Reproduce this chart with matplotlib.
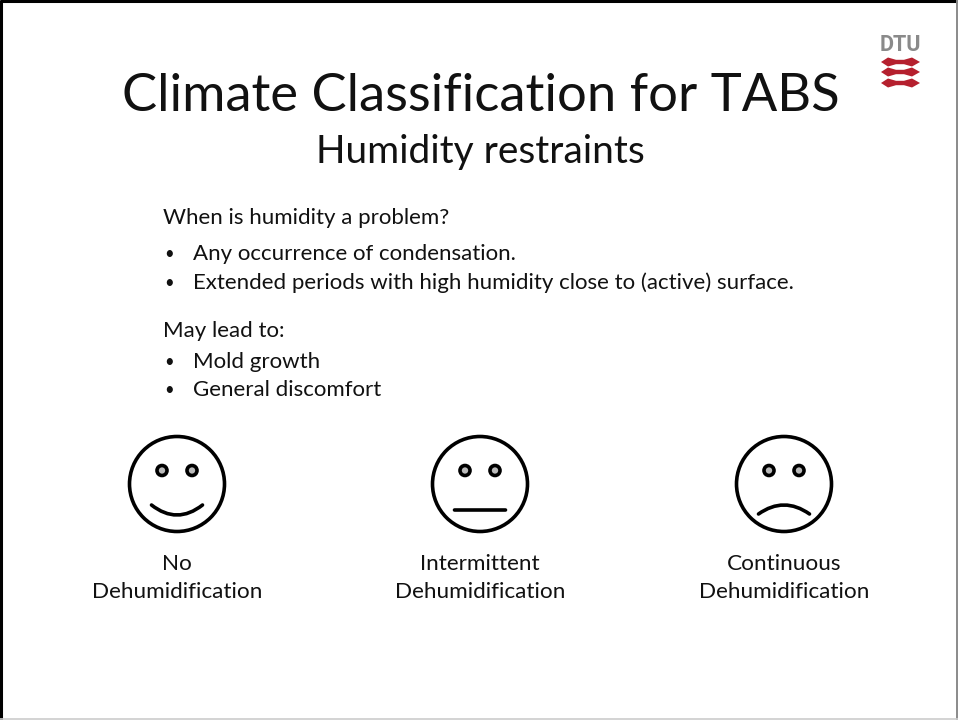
import matplotlib
matplotlib.use("Agg")
import matplotlib.pyplot as plt
from matplotlib.patches import Circle, PathPatch, Polygon
from matplotlib.path import Path

plt.rcParams['font.family'] = ['Lato', 'DejaVu Sans']

title = "Climate Classification for TABS"
subtitle = "Humidity restraints"
body_lines = ["When is humidity a problem?", "May lead to:"]
bullets = ["Any occurrence of condensation.",
           "Extended periods with high humidity close to (active) surface.",
           "Mold growth", "General discomfort"]
face_labels = ["No\nDehumidification", "Intermittent\nDehumidification", "Continuous\nDehumidification"]
mouth_offsets = [20, 0, -18]   # curve of each mouth

fig = plt.figure(figsize=(9.58, 7.2), dpi=100)
ax = fig.add_axes([0, 0, 1, 1])
ax.set_xlim(0, 958); ax.set_ylim(720, 0); ax.axis('off')

# slide border
ax.plot([1, 1], [0, 720], color='black', lw=2.2, solid_capstyle='butt')
ax.plot([0, 958], [1, 1], color='black', lw=2.2, solid_capstyle='butt')
ax.plot([957, 957], [0, 720], color='#8a8a8a', lw=1.4, solid_capstyle='butt')
ax.plot([0, 958], [719, 719], color='#cccccc', lw=1.2, solid_capstyle='butt')

tc = '#111111'
ax.text(480.5, 111, title, fontsize=37.8, ha='center', va='baseline', color=tc)
ax.text(480.5, 163, subtitle, fontsize=28, ha='center', va='baseline', color=tc)

fs = 16
rows = [(None, 224, body_lines[0]), (True, 260, bullets[0]), (True, 289, bullets[1]),
        (None, 337, body_lines[1]), (True, 368, bullets[2]), (True, 396, bullets[3])]
for bullet, y, s in rows:
    if bullet:
        ax.text(164, y - 1, "•", fontsize=12, va='baseline', color=tc)
        ax.text(193, y, s, fontsize=fs, va='baseline', color=tc)
    else:
        ax.text(163, y, s, fontsize=fs, va='baseline', color=tc)

centers = [177, 480, 784]
for cx, lab, m in zip(centers, face_labels, mouth_offsets):
    ax.add_patch(Circle((cx, 484), 47.5, fc='white', ec='black', lw=2.6))
    for ex in (cx - 15, cx + 15):
        ax.add_patch(Circle((ex, 470.5), 5, fc='#bbbbbb', ec='black', lw=2.6))
    y0 = 505 if m > 0 else (510 if m == 0 else 514)
    verts = [(cx - 25.5, y0), (cx, y0 + m), (cx + 25.5, y0)]
    ax.add_patch(PathPatch(Path(verts, [Path.MOVETO, Path.CURVE3, Path.CURVE3]),
                           fc='none', ec='black', lw=2.6, capstyle='round'))
    top, bottom = lab.split("\n")
    ax.text(cx, 570, top, fontsize=16.2, ha='center', va='baseline', color=tc)
    ax.text(cx, 598, bottom, fontsize=16.2, ha='center', va='baseline', color=tc)

# DTU logo
ax.text(900, 51, "DTU", fontsize=15.5, fontweight='bold', ha='center', va='baseline',
        color='#8a8a8a', family=['Liberation Sans Narrow', 'Roboto', 'DejaVu Sans'])
for y in (62, 72, 83):
    ax.add_patch(Polygon([(881, y), (888, y - 4.5), (896, y - 2.2), (904, y - 2.2), (912, y - 4.5), (920, y),
                          (912, y + 4.5), (904, y + 2.2), (896, y + 2.2), (888, y + 4.5)],
                         closed=True, fc='#b5202e', ec='none'))

fig.savefig("out.png", dpi=100)
